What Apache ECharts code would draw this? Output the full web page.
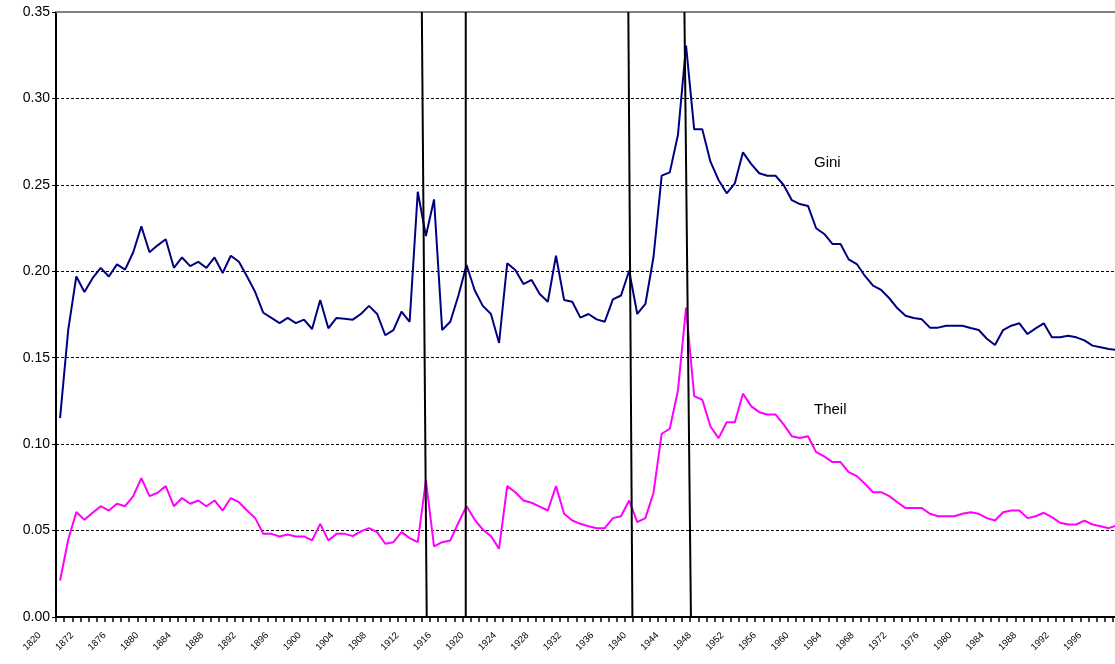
<!DOCTYPE html>
<html>
<head>
<meta charset="utf-8">
<script src="https://cdn.jsdelivr.net/npm/echarts@6/dist/echarts.min.js"></script>
<style>
html,body{margin:0;padding:0;background:#fff;overflow:hidden;}
#c{width:1130px;height:664px;}
</style>
</head>
<body>
<div id="c"></div>
<script>
// Categories: first benchmark label "1820", then annual 1869..1998
const categories = ["1820"];
for (let y = 1869; y <= 1998; y++) categories.push(String(y));

const gini = [
0.115,0.166,0.197,0.188,0.196,0.202,0.197,0.204,0.201,0.211,
0.226,0.211,0.215,0.2185,0.202,0.208,0.203,0.2055,0.202,0.208,
0.199,0.209,0.2055,0.197,0.188,0.176,0.173,0.170,0.173,0.170,
0.172,0.1666,0.1834,0.167,0.173,0.1725,0.172,0.1753,0.180,0.1753,
0.163,0.166,0.1766,0.1708,0.246,0.2204,0.2416,0.166,0.1708,0.186,
0.2036,0.189,0.180,0.1753,0.1585,0.2046,0.2007,0.1926,0.195,0.1869,
0.1824,0.209,0.1834,0.1824,0.1732,0.1753,0.1722,0.1708,0.1838,0.186,
0.2003,0.1753,0.1811,0.2084,0.2553,0.2572,0.2788,0.3305,0.2821,0.2821,
0.2634,0.2528,0.2451,0.2509,0.2688,0.2621,0.2567,0.2553,0.2553,0.2499,
0.2412,0.2389,0.2378,0.2249,0.2216,0.2158,0.2158,0.2069,0.2042,0.1973,
0.1917,0.1892,0.1844,0.1786,0.1743,0.173,0.1722,0.1674,0.1674,0.1685,
0.1685,0.1685,0.1672,0.166,0.161,0.1574,0.166,0.1685,0.1699,0.1637,
0.167,0.1699,0.1618,0.1618,0.1627,0.1618,0.160,0.157,0.156,0.155,
0.1545
];

const theil = [
0.0211,0.0447,0.0607,0.0562,0.0603,0.0641,0.0616,0.0655,0.0641,0.0699,
0.0803,0.0699,0.0719,0.0757,0.0641,0.0688,0.0655,0.0674,0.0641,0.0674,
0.0616,0.0688,0.0664,0.0616,0.0572,0.0481,0.0481,0.0466,0.0477,0.0466,
0.0466,0.0443,0.0539,0.0443,0.0481,0.0481,0.0468,0.0495,0.0514,0.0491,
0.0424,0.0433,0.0491,0.0456,0.0433,0.079,0.0408,0.0433,0.0443,0.0545,
0.0641,0.0564,0.0506,0.0468,0.0395,0.0757,0.0722,0.0674,0.0661,0.0639,
0.0616,0.0757,0.0597,0.0558,0.0539,0.0525,0.0514,0.0514,0.0572,0.0583,
0.0674,0.0549,0.0572,0.0719,0.106,0.1089,0.131,0.179,0.1278,0.1257,
0.1102,0.1035,0.1127,0.1127,0.1292,0.122,0.1185,0.1172,0.1172,0.1114,
0.1046,0.1035,0.1046,0.0954,0.0929,0.0896,0.0896,0.0838,0.0815,0.0771,
0.0722,0.0722,0.0699,0.0664,0.063,0.063,0.063,0.0597,0.0583,0.0583,
0.0583,0.0597,0.0606,0.0597,0.0572,0.0558,0.0606,0.0616,0.0616,0.0572,
0.0583,0.0603,0.0578,0.0545,0.0535,0.0535,0.0558,0.0535,0.0525,0.0514,
0.053
];

// Hand-drawn war-period marker lines (year positions at top and bottom of plot)
const warLineTop =    [1912.5, 1917.9, 1937.9, 1944.8];
const warLineBottom = [1913.1, 1917.9, 1938.4, 1945.6];

const yTicks = [0, 0.05, 0.10, 0.15, 0.20, 0.25, 0.30, 0.35];
const seriesNames = ["Gini", "Theil"];

const chart = echarts.init(document.getElementById('c'), null, {renderer:'canvas'});
const FONT = 'Liberation Sans, Arial, sans-serif';
const plotW = 1065, plotH = 605;

const warSeries = warLineTop.map((t, i) => ({
  type: 'line', xAxisIndex: 1, yAxisIndex: 0, symbol: 'none', silent: true, z: 5,
  lineStyle: {color: '#000', width: 2},
  data: [[t, yTicks[yTicks.length - 1]], [warLineBottom[i], yTicks[0]]]
}));

chart.setOption({
  animation: false,
  backgroundColor: '#fff',
  grid: [
    {left: 56, top: 12, width: plotW, height: plotH},
    {left: 35.5, top: 12, width: plotW, height: plotH}
  ],
  xAxis: [
    {type: 'category', gridIndex: 0, data: categories, boundaryGap: true,
     axisLine: {show: true, lineStyle: {color: '#000', width: 2}},
     axisTick: {show: true, interval: 0, length: 5, lineStyle: {color: '#000', width: 1.5}},
     axisLabel: {show: false}, splitLine: {show: false}},
    {type: 'value', gridIndex: 0, position: 'top', min: 1867.5, max: 1998.5,
     axisLine: {show: true, onZero: false, lineStyle: {color: '#808080', width: 2}},
     axisTick: {show: false}, axisLabel: {show: false}, splitLine: {show: false}},
    {type: 'category', gridIndex: 1, data: categories, boundaryGap: true,
     axisLine: {show: false}, axisTick: {show: false}, splitLine: {show: false},
     axisLabel: {interval: 3, rotate: 45, margin: 17, fontSize: 9.5, fontFamily: FONT, color: '#000'}}
  ],
  yAxis: [
    {type: 'value', gridIndex: 0, min: yTicks[0], max: yTicks[yTicks.length - 1], interval: 0.05,
     axisLine: {show: true, lineStyle: {color: '#000', width: 2}},
     axisTick: {show: true, length: 4, lineStyle: {color: '#000', width: 1}},
     axisLabel: {formatter: v => v.toFixed(2), fontSize: 14, fontFamily: FONT, color: '#000', margin: 6},
     splitLine: {show: true, showMinLine: false, showMaxLine: false,
                 lineStyle: {color: '#000', width: 1, type: [3, 2]}}},
    {type: 'value', gridIndex: 1, min: 0, max: 0.35, show: false, splitLine: {show: false}}
  ],
  series: [
    {name: seriesNames[0], type: 'line', xAxisIndex: 0, yAxisIndex: 0, data: gini,
     symbol: 'none', z: 3, lineStyle: {color: '#000080', width: 2}},
    {name: seriesNames[1], type: 'line', xAxisIndex: 0, yAxisIndex: 0, data: theil,
     symbol: 'none', z: 3, lineStyle: {color: '#ff00ff', width: 2}},
    ...warSeries
  ],
  graphic: [
    {type: 'text', left: 814, top: 155, style: {text: seriesNames[0], font: '15px ' + FONT, fill: '#000'}},
    {type: 'text', left: 814, top: 402, style: {text: seriesNames[1], font: '15px ' + FONT, fill: '#000'}}
  ]
});
</script>
</body>
</html>
